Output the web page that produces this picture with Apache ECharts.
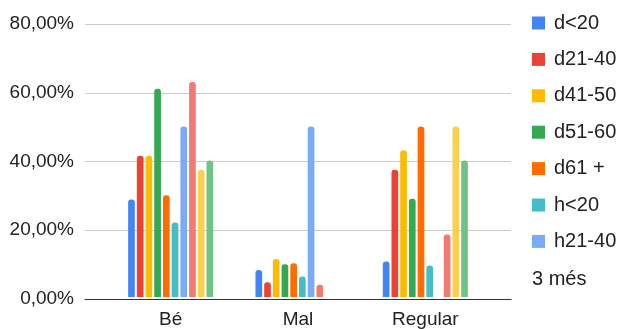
<!DOCTYPE html>
<html>
<head>
<meta charset="utf-8">
<script src="https://cdn.jsdelivr.net/npm/echarts@6/dist/echarts.min.js"></script>
<style>
  html, body { margin: 0; padding: 0; background: #fff; }
  #chart { width: 623px; height: 329px; }
</style>
</head>
<body>
<div id="chart"></div>
<script>
// Categories on the x axis
const categories = ['Bé', 'Mal', 'Regular'];

// Series names (the legend lists the first seven, the rest are summarised)
const seriesNames = ['d<20', 'd21-40', 'd41-50', 'd51-60', 'd61 +', 'h<20', 'h21-40', 'h41-50', 'h51-60', 'h61 +'];

// Percentages per series, one value per category
const d_lt20   = [28.6, 7.9, 10.4];
const d21_40   = [41.4, 4.3, 37.3];
const d41_50   = [41.4, 11.1, 43.0];
const d51_60   = [61.0, 9.6, 28.8];
const d61_plus = [29.8, 9.9, 50.0];
const h_lt20   = [21.8, 6.0, 9.2];
const h21_40   = [50.0, 50.0, null];
const h41_50   = [63.0, 3.6, 18.3];
const h51_60   = [37.3, null, 50.0];
const h61_plus = [40.0, null, 40.0];

// Y axis ticks
const yTicks = [0, 20, 40, 60, 80];

const seriesValues = [d_lt20, d21_40, d41_50, d51_60, d61_plus, h_lt20, h21_40, h41_50, h51_60, h61_plus];
const colors = ['#4285F4', '#EA4335', '#FBBC04', '#34A853', '#FF6D01', '#46BDC6', '#7BAAF7', '#F07B72', '#FCD04F', '#71C287'];

const chart = echarts.init(document.getElementById('chart'), null, { renderer: 'canvas' });

const font = 'Arial, "Liberation Sans", sans-serif';

const series = seriesNames.map((name, i) => ({
  name: name,
  type: 'bar',
  xAxisIndex: 1,
  yAxisIndex: 1,
  data: seriesValues[i],
  barWidth: 6.7,
  barGap: '30%',
  itemStyle: { color: colors[i], borderRadius: [3, 3, 0, 0] },
  emphasis: { disabled: true },
  animation: false
}));

const option = {
  animation: false,
  color: colors,
  grid: [
    // frame with the gridlines and baseline
    { left: 85, right: 112, top: 24, bottom: 30 },
    // plotting area of the bars
    { left: 107, right: 134, top: 24, bottom: 30 }
  ],
  xAxis: [
    {
      gridIndex: 0,
      type: 'category',
      data: [''],
      axisLine: { show: true, lineStyle: { color: '#333', width: 1 } },
      axisTick: { show: false },
      axisLabel: { show: false },
      splitLine: { show: false }
    },
    {
      gridIndex: 1,
      type: 'category',
      data: categories,
      axisLine: { show: false },
      axisTick: { show: false },
      axisLabel: { color: '#222', fontSize: 19, fontFamily: font, margin: 13 },
      splitLine: { show: false }
    }
  ],
  yAxis: [
    {
      gridIndex: 0,
      type: 'value',
      min: yTicks[0],
      max: yTicks[yTicks.length - 1],
      interval: yTicks[1] - yTicks[0],
      axisLine: { show: false },
      axisTick: { show: false },
      axisLabel: {
        color: '#222', fontSize: 19, fontFamily: font, margin: 11,
        formatter: v => v.toFixed(2).replace('.', ',') + '%'
      },
      splitLine: { lineStyle: { color: '#cccccc', width: 1 } }
    },
    {
      gridIndex: 1,
      type: 'value',
      min: yTicks[0],
      max: yTicks[yTicks.length - 1],
      interval: yTicks[1] - yTicks[0],
      show: false,
      splitLine: { show: false }
    }
  ],
  legend: {
    orient: 'vertical',
    left: 532,
    top: 13,
    padding: 0,
    data: seriesNames.slice(0, 7),
    icon: 'rect',
    itemWidth: 13,
    itemHeight: 13,
    itemGap: 16.4,
    selectedMode: false,
    textStyle: { color: '#222', fontSize: 20, fontFamily: font, lineHeight: 20, padding: [0, 0, 0, 4] }
  },
  graphic: [
    {
      type: 'text',
      left: 532,
      top: 269,
      style: { text: (seriesNames.length - 7) + ' més', fill: '#222', font: '20px ' + font }
    }
  ],
  series: series
};

chart.setOption(option);
</script>
</body>
</html>
